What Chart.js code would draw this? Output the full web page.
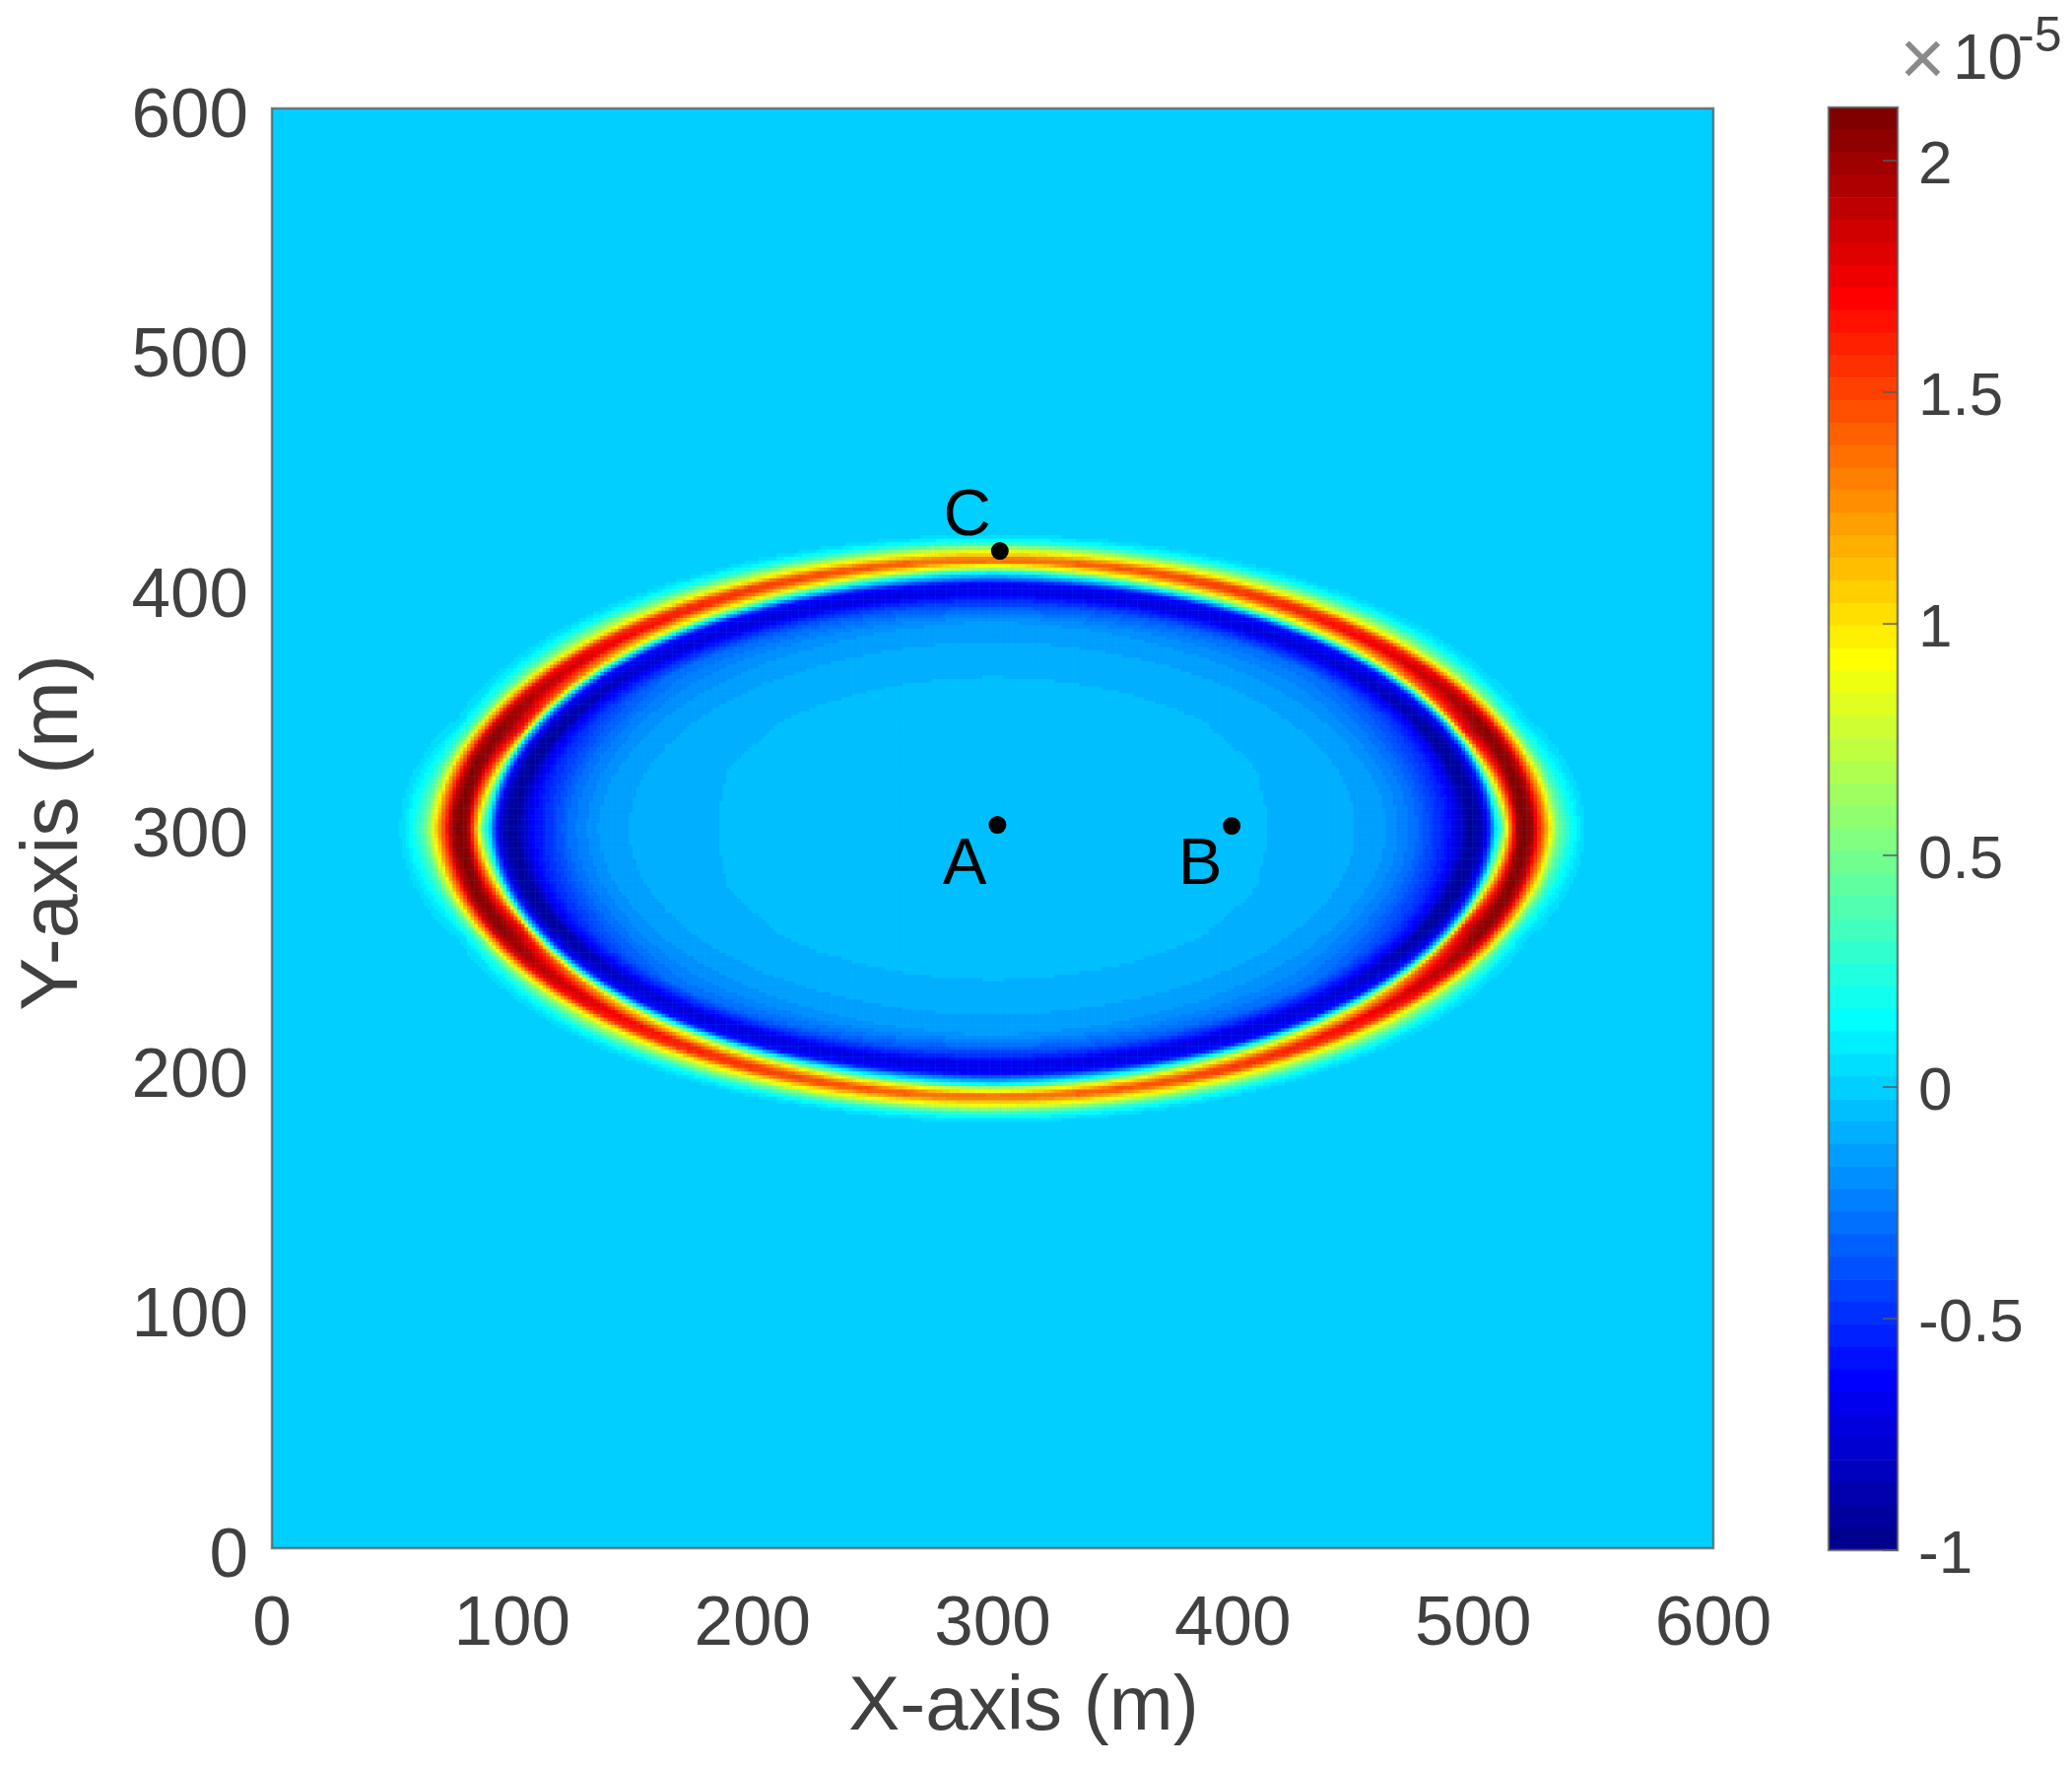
<!DOCTYPE html>
<html>
<head>
<meta charset="utf-8">
<style>
  html, body { margin: 0; background: #fff; }
  canvas { position: absolute; left: 0; top: 0; filter: blur(0.7px); }
</style>
<script src="https://cdn.jsdelivr.net/npm/chart.js@4/dist/chart.umd.min.js"></script>
</head>
<body>
<canvas id="field" width="2103" height="1792"></canvas>
<canvas id="colorbar" width="2103" height="1792"></canvas>
<script>
// axis ticks
const xyTicks = [0, 100, 200, 300, 400, 500, 600];
const barTicks = [-1, -0.5, 0, 0.5, 1, 1.5, 2];

// field read along four rays from the centre (radius in x-metres, y counts double)
const sideRadius = [0, 114, 151, 164, 176, 185, 190, 193, 199, 204, 207, 209, 211, 213, 214.3, 215.5, 217.2, 218.4, 221.3, 224.6, 226.6, 229.5, 232, 235, 238, 241, 245, 248];
const sideValue = [-0.04, -0.075, -0.124, -0.172, -0.3, -0.5, -0.61, -0.72, -0.97, -0.85, -0.5, 0, 0.2, 0.6, 1, 1.3, 1.7, 2, 2.11, 2, 1.7, 1.35, 1, 0.55, 0.35, 0.2, 0.05, 0];
const nearRadius = [0, 120, 152, 165, 176, 188, 194, 197, 201.5, 205.2, 207.9, 209.9, 211.6, 213.5, 218, 221.8, 224.9, 227.5, 229.4, 231.7, 235.1, 239.2, 244];
const nearValue = [-0.04, -0.075, -0.124, -0.18, -0.3, -0.5, -0.7, -0.95, -0.9, -0.6, 0, 0.8, 1.4, 1.75, 2, 2.05, 1.8, 1.3, 1, 0.5, 0.2, 0.03, 0];
const diagRadius = [0, 125, 153, 170, 185, 198, 205.6, 208.4, 210.1, 212.9, 215.8, 220, 225, 229, 233.2, 239, 243, 247];
const diagValue = [-0.04, -0.075, -0.124, -0.19, -0.3, -0.78, -0.6, 0, 0.4, 1, 1.3, 1.75, 1.6, 1, 0.6, 0.2, 0.05, 0];
const topRadius = [0, 126, 156, 172, 177, 185, 191, 196, 204, 208, 212, 214, 216, 220, 222, 225, 229, 232, 236, 239, 243, 246];
const topValue = [-0.04, -0.075, -0.124, -0.172, -0.25, -0.4, -0.55, -0.72, -0.65, -0.3, 0, 0.2, 0.6, 1, 1.33, 1.33, 1, 0.8, 0.4, 0.2, 0.05, 0];

// marked points and their letters
const pointNames = ['A', 'B', 'C'];
const pointX = [302, 399.5, 303];
const pointY = [301.4, 301, 415.6];
const nameX = [288.3, 386.4, 289.4];
const nameY = [276.8, 277, 422.2];

const barMin = -1;
const barMax = 2.115;
const levels = 64;
const textColor = '#404040';
const frameColor = 'rgba(90, 90, 90, 0.75)';

// matlab jet(64), row is 1-based
function jetRow(i) {
    const c = v => Math.round(255 * Math.max(0, Math.min(1, v)));
    const r = c(Math.min((i - 24) / 16, (72 - i) / 16));
    const g = c(Math.min((i - 8) / 16, (56 - i) / 16));
    const b = c(Math.min((i + 8) / 16, (40 - i) / 16));
    return `rgb(${r},${g},${b})`;
}

function jetValue(v) {
    const row = Math.floor((v - barMin) / (barMax - barMin) * levels) + 1;
    return jetRow(Math.max(1, Math.min(levels, row)));
}

function lookup(radii, values, r) {
    if (r >= radii[radii.length - 1]) return values[values.length - 1];
    let i = 1;
    while (radii[i] < r) i++;
    const t = (r - radii[i - 1]) / (radii[i] - radii[i - 1]);
    return values[i - 1] + t * (values[i] - values[i - 1]);
}

function fieldAt(x, y) {
    const dx = Math.abs(x - 300);
    const dy = Math.abs(y - 300) * 2;
    const r = Math.hypot(dx, dy);
    const a = Math.atan2(dy, dx) / (Math.PI / 2);
    if (a < 0.25) {
        const v = lookup(sideRadius, sideValue, r);
        return v + (lookup(nearRadius, nearValue, r) - v) * a / 0.25;
    }
    if (a < 0.5) {
        const v = lookup(nearRadius, nearValue, r);
        return v + (lookup(diagRadius, diagValue, r) - v) * (a - 0.25) / 0.25;
    }
    const v = lookup(diagRadius, diagValue, r);
    return v + (lookup(topRadius, topValue, r) - v) * (a - 0.5) / 0.5;
}

// raster cells of the ring area, the rest of the plot is the zero colour
const cells = [];
const cellColors = [];
for (let x = 40; x <= 560; x += 1.5) {
    for (let y = 165; y <= 435; y += 1.5) {
        if (Math.hypot(x - 300, (y - 300) * 2) > 250) continue;
        cells.push({ x, y });
        cellColors.push(jetValue(fieldAt(x, y)));
    }
}

const fieldDecor = {
    id: 'fieldDecor',
    beforeDatasetsDraw(chart) {
        const { ctx, chartArea: a } = chart;
        ctx.save();
        ctx.fillStyle = jetValue(0);
        ctx.fillRect(a.left, a.top, a.width, a.height);
        ctx.restore();
    },
    afterDatasetsDraw(chart) {
        const { ctx, chartArea: a, scales } = chart;
        ctx.save();
        ctx.strokeStyle = frameColor;
        ctx.lineWidth = 2.5;
        ctx.strokeRect(a.left, a.top, a.width, a.height);

        ctx.fillStyle = '#000';
        ctx.font = '67px "Liberation Sans"';
        ctx.textAlign = 'center';
        ctx.textBaseline = 'alphabetic';
        pointNames.forEach((name, i) => {
            ctx.fillText(name, scales.x.getPixelForValue(nameX[i]), scales.y.getPixelForValue(nameY[i]));
        });

        ctx.fillStyle = textColor;
        ctx.font = '78px "Liberation Sans"';
        ctx.textBaseline = 'middle';
        ctx.fillText('X-axis (m)', 1039, 1733);
        ctx.font = '81px "Liberation Sans"';
        ctx.translate(56, 845);
        ctx.rotate(-Math.PI / 2);
        ctx.fillText('Y-axis (m)', 0, 0);
        ctx.restore();
    },
};

new Chart(document.getElementById('field'), {
    type: 'scatter',
    data: {
        datasets: [
            {
                data: pointX.map((x, i) => ({ x, y: pointY[i] })),
                backgroundColor: '#000',
                borderWidth: 0,
                pointRadius: 9,
            },
            {
                data: cells,
                backgroundColor: cellColors,
                borderWidth: 0,
                pointStyle: 'rect',
                pointRadius: 2.85,
            },
        ],
    },
    options: {
        responsive: false,
        animation: false,
        events: [],
        layout: { padding: { top: 110, right: 364 } },
        plugins: { legend: { display: false }, tooltip: { enabled: false } },
        scales: {
            x: {
                min: 0,
                max: 600,
                grid: { display: false, drawTicks: false },
                border: { display: false },
                afterFit: s => { s.height = 221; },
                afterBuildTicks: s => { s.ticks = xyTicks.map(value => ({ value })); },
                ticks: { color: textColor, font: { family: 'Liberation Sans', size: 71 }, padding: 36, maxRotation: 0 },
            },
            y: {
                min: 0,
                max: 600,
                grid: { display: false, drawTicks: false },
                border: { display: false },
                afterFit: s => { s.width = 276; },
                afterBuildTicks: s => { s.ticks = xyTicks.map(value => ({ value })); },
                ticks: { color: textColor, font: { family: 'Liberation Sans', size: 71 }, padding: 24, labelOffset: 9 },
            },
        },
    },
    plugins: [fieldDecor],
});

// colour bar, one floating bar per colormap row
const barStep = (barMax - barMin) / levels;
const barSets = [];
for (let i = 0; i < levels; i++) {
    barSets.push({
        data: [[barMin + i * barStep, barMin + (i + 1) * barStep]],
        backgroundColor: jetRow(i + 1),
        borderWidth: 0,
    });
}

const barDecor = {
    id: 'barDecor',
    afterDatasetsDraw(chart) {
        const { ctx, chartArea: a, scales } = chart;
        ctx.save();
        ctx.strokeStyle = frameColor;
        ctx.lineWidth = 2;
        barTicks.forEach(v => {
            const py = scales.y.getPixelForValue(v);
            ctx.beginPath();
            ctx.moveTo(a.right - 15, py);
            ctx.lineTo(a.right, py);
            ctx.stroke();
        });
        ctx.lineWidth = 2.5;
        ctx.strokeRect(a.left, a.top, a.width, a.height);

        ctx.textBaseline = 'alphabetic';
        ctx.textAlign = 'left';
        ctx.fillStyle = '#8a8a8a';
        ctx.font = '80px "Liberation Sans"';
        ctx.fillText('×', 1928, 86);
        ctx.fillStyle = textColor;
        ctx.font = '64px "Liberation Sans"';
        ctx.fillText('10', 1982, 80);
        ctx.font = '50px "Liberation Sans"';
        ctx.fillText('-5', 2048, 52);
        ctx.restore();
    },
};

new Chart(document.getElementById('colorbar'), {
    type: 'bar',
    data: { labels: [''], datasets: barSets },
    options: {
        responsive: false,
        animation: false,
        events: [],
        layout: { padding: { left: 1856, top: 109, bottom: 219 } },
        datasets: { bar: { barPercentage: 1, categoryPercentage: 1 } },
        plugins: { legend: { display: false }, tooltip: { enabled: false } },
        scales: {
            x: { stacked: true, display: false },
            y: {
                position: 'right',
                min: barMin,
                max: barMax,
                grid: { display: false, drawTicks: false },
                border: { display: false },
                afterFit: s => { s.width = 177; },
                afterBuildTicks: s => { s.ticks = barTicks.map(value => ({ value })); },
                ticks: {
                    color: textColor,
                    font: { family: 'Liberation Sans', size: 62 },
                    padding: 21,
                    labelOffset: 6,
                    callback: v => String(v),
                },
            },
        },
    },
    plugins: [barDecor],
});
</script>
</body>
</html>
